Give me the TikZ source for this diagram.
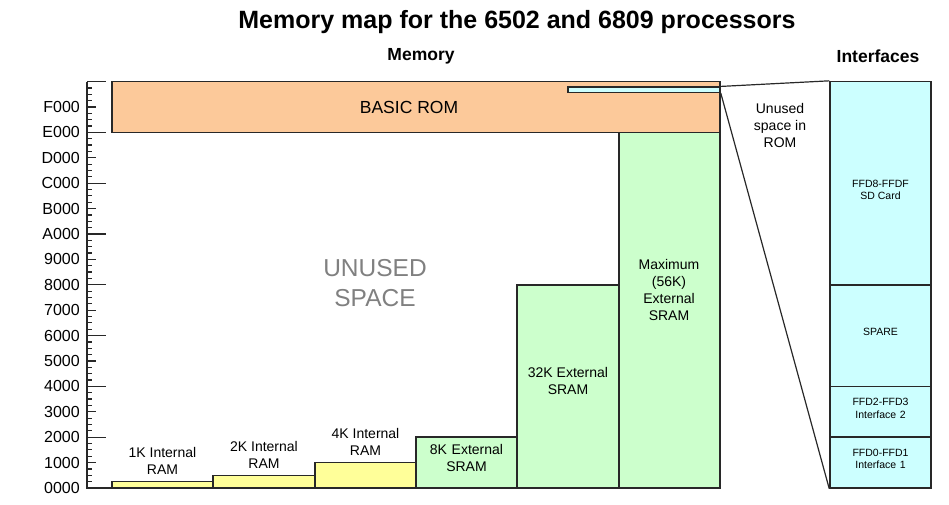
\documentclass[tikz,border=0pt]{standalone}
\usepackage{fontspec}
\setmainfont{Liberation Sans}
\usepackage{xcolor}
\definecolor{mmrom}{RGB}{252,201,154}
\definecolor{mmram}{RGB}{255,255,153}
\definecolor{mmsram}{RGB}{204,255,204}
\definecolor{mmio}{RGB}{204,255,255}
\definecolor{mmline}{RGB}{40,40,40}
\definecolor{mmgray}{RGB}{128,128,128}
\usetikzlibrary{positioning,fit}

\tikzset{
  memblock/.style={draw=mmline,line width=1.5bp,inner sep=0pt},
  blocktext/.style={align=center,font=\fontsize{14bp}{17bp}\selectfont},
  blocklabel/.style={blocktext,inner sep=1bp},
  iotext/.style={align=center,font=\fontsize{10.5bp}{12.6bp}\selectfont},
  headtext/.style={font=\fontsize{17.5bp}{21bp}\selectfont\bfseries},
  addrtext/.style={font=\fontsize{16bp}{19bp}\selectfont,inner sep=0pt,anchor=east},
}

\begin{document}
\begin{tikzpicture}[x=1bp,y=1bp]
  \useasboundingbox (0,0) rectangle (949,505);
  \begin{scope}[shift={(0bp,17bp)},y=25.4bp]
    % address axis
    \draw[mmline,line width=1.4bp] (87,16) -- (87,0) -- (720,0);
    \foreach \k in {0,...,64}{
      \pgfmathsetmacro{\ticklen}{mod(\k,8)==0 ? 19 : (mod(\k,4)==0 ? 9 : 5)}
      \draw[mmline,line width=1.2bp] (87,\k/4) -- ++(\ticklen,0);
    }
    \foreach \lab [count=\i from 0] in {0000,1000,2000,3000,4000,5000,6000,7000,8000,9000,A000,B000,C000,D000,E000,F000}
      \node[addrtext] (addr\i) at (80,\i) {\lab};

    % memory blocks
    \node[memblock,fill=mmram,fit={(112,0) (213,0.25)}] (ramA) {};
    \node[memblock,fill=mmram,fit={(213,0) (315,0.5)}] (ramB) {};
    \node[memblock,fill=mmram,fit={(315,0) (416,1)}] (ramC) {};
    \node[memblock,fill=mmsram,fit={(416,0) (517,2)},blocktext] (sramA) {8K External\\SRAM};
    \node[memblock,fill=mmsram,fit={(517,0) (619,8)}] (sramB) {};
    \node[memblock,fill=mmsram,fit={(619,0) (720,14)}] (sramC) {};
    \node[memblock,fill=mmrom,fit={(112,14) (720,16)}] (rom) {};
    \node[memblock,fill=mmio,fit={(568,15.58) (720,15.78)}] (ioslot) {};

    \node[blocklabel,above=5bp of ramA] (ramAlab) {1K Internal\\RAM};
    \node[blocklabel,above=5bp of ramB] (ramBlab) {2K Internal\\RAM};
    \node[blocklabel,above=5bp of ramC] (ramClab) {4K Internal\\RAM};
    \node[blocklabel] (sramBlab) at (568,4.21) {32K External\\SRAM};
    \node[blocklabel] (sramClab) at (669,7.8) {Maximum\\(56K)\\External\\SRAM};
    \node[font=\fontsize{17.5bp}{21bp}\selectfont] (romlab) at (409,15.0) {BASIC ROM};
    \node[align=center,text=mmgray,font=\fontsize{24.5bp}{29.5bp}\selectfont] (unused) at (375,8.07) {UNUSED\\SPACE};
    \node[blocklabel] (romnote) at (780,14.29) {Unused\\space in\\ROM};

    % interface area
    \node[memblock,fill=mmio,fit={(830,0) (931,2)},iotext] (ifA) {FFD0-FFD1\\Interface 1};
    \node[memblock,fill=mmio,fit={(830,2) (931,4)},iotext] (ifB) {FFD2-FFD3\\Interface 2};
    \node[memblock,fill=mmio,fit={(830,4) (931,8)},iotext] (spare) {SPARE};
    \node[memblock,fill=mmio,fit={(830,8) (931,16)}] (sdcard) {};
    \node[iotext] (sdlab) at (880.5,11.73) {FFD8-FFDF\\SD Card};

    \draw[mmline,line width=1.2bp] (ioslot.north east) -- (sdcard.north west);
    \draw[mmline,line width=1.2bp] (ioslot.south east) -- (ifA.south west);

    % headings
    \node[headtext] (memhead) at (421,17.0) {Memory};
    \node[headtext] (iohead) at (878,17.0) {Interfaces};
    \node[font=\fontsize{25bp}{30bp}\selectfont\bfseries] (title) at (517,18.35) {Memory map for the 6502 and 6809 processors};
  \end{scope}
\end{tikzpicture}
\end{document}
